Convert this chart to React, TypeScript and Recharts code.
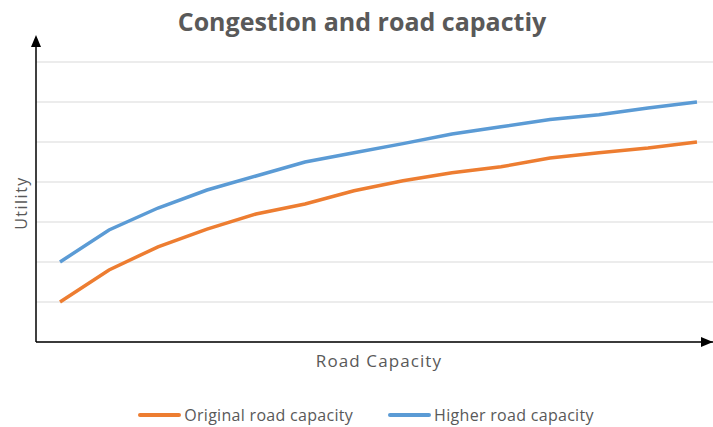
import { CartesianGrid, Line, LineChart, XAxis, YAxis } from "recharts"

// values (utility units, one gridline = 1)
const capacity = [1, 2, 3, 4, 5, 6, 7, 8, 9, 10, 11, 12, 13, 14]
const originalUtility = [1.0, 1.8, 2.38, 2.82, 3.2, 3.45, 3.78, 4.03, 4.23, 4.38, 4.6, 4.73, 4.85, 5.0]
const higherUtility = [2.0, 2.8, 3.35, 3.8, 4.15, 4.5, 4.73, 4.96, 5.2, 5.38, 5.56, 5.68, 5.85, 6.0]
const utilityTicks = [0, 1, 2, 3, 4, 5, 6, 7]

const series = [
  { key: "original", name: "Original road capacity", color: "#ED7D31" },
  { key: "higher", name: "Higher road capacity", color: "#5B9BD5" },
]

const data = capacity.map((c, i) => ({
  capacity: c,
  original: originalUtility[i],
  higher: higherUtility[i],
}))

const font = "'Open Sans', 'Noto Sans', sans-serif"
const grey = "#595959"

// axes carry no tick labels, but the ticks are still needed for the gridlines
const NoTick = () => <g />

export default function App() {
  return (
    <div style={{ position: "absolute", left: 0, top: 0, width: 713, height: 427, background: "#fff", fontFamily: font }}>
      <svg width={0} height={0} style={{ position: "absolute" }}>
        <defs>
          <marker
            id="arrowX"
            markerUnits="userSpaceOnUse"
            markerWidth={12}
            markerHeight={10}
            refX={12}
            refY={5}
            orient="auto"
          >
            <path d="M0,0 L12,5 L0,10 z" fill="#000" />
          </marker>
          {/* y arrow sticks out above the plot: a bit of shaft, then the head */}
          <marker
            id="arrowY"
            markerUnits="userSpaceOnUse"
            markerWidth={27}
            markerHeight={10}
            refX={0}
            refY={5}
            orient="auto-start-reverse"
          >
            <path d="M0,4.25 L15,4.25 L15,0 L27,5 L15,10 L15,5.75 L0,5.75 z" fill="#000" />
          </marker>
        </defs>
      </svg>

      <div
        style={{
          position: "absolute",
          left: 0,
          top: 4,
          width: 724,
          textAlign: "center",
          fontSize: 25,
          fontWeight: 700,
          color: grey,
        }}
      >
        Congestion and road capactiy
      </div>

      <LineChart width={713} height={427} data={data} margin={{ top: 62, right: 0, left: 0, bottom: 55 }}>
        <CartesianGrid vertical={false} stroke="#D9D9D9" strokeWidth={1} />
        <XAxis
          dataKey="capacity"
          type="number"
          domain={[0.51, 14.327]}
          allowDataOverflow
          tick={NoTick}
          tickLine={false}
          height={30}
          axisLine={{ stroke: "#000", strokeWidth: 1.5, markerEnd: "url(#arrowX)" }}
          label={{
            content: () => (
              <text x={379} y={360} textAnchor="middle" dominantBaseline="central" fill={grey} fontSize={17} letterSpacing={1.1} fontFamily={font}>
                Road Capacity
              </text>
            ),
          }}
        />
        <YAxis
          type="number"
          domain={[0, 7]}
          ticks={utilityTicks}
          allowDataOverflow
          width={36}
          tick={NoTick}
          tickLine={false}
          axisLine={{ stroke: "#000", strokeWidth: 1.5, markerStart: "url(#arrowY)" }}
          label={{
            content: () => (
              <text
                x={21}
                y={203}
                transform="rotate(-90, 21, 203)"
                textAnchor="middle"
                dominantBaseline="central"
                fill={grey}
                fontSize={16}
                letterSpacing={1.5}
                fontFamily={font}
              >
                Utility
              </text>
            ),
          }}
        />
        {series.map((s) => (
          <Line
            key={s.key}
            dataKey={s.key}
            name={s.name}
            type="linear"
            stroke={s.color}
            strokeWidth={3.5}
            dot={false}
            activeDot={false}
            isAnimationActive={false}
          />
        ))}
      </LineChart>

      <div
        style={{
          position: "absolute",
          left: 0,
          top: 404,
          width: 713,
          paddingLeft: 19,
          boxSizing: "border-box",
          display: "flex",
          justifyContent: "center",
          alignItems: "center",
          gap: 35,
          fontSize: 16,
          letterSpacing: 0.3,
          color: grey,
        }}
      >
        {series.map((s) => (
          <div key={s.key} style={{ display: "flex", alignItems: "center", gap: 3 }}>
            <span style={{ display: "inline-block", width: 43, height: 4, background: s.color, borderRadius: 2 }} />
            <span>{s.name}</span>
          </div>
        ))}
      </div>
    </div>
  )
}
